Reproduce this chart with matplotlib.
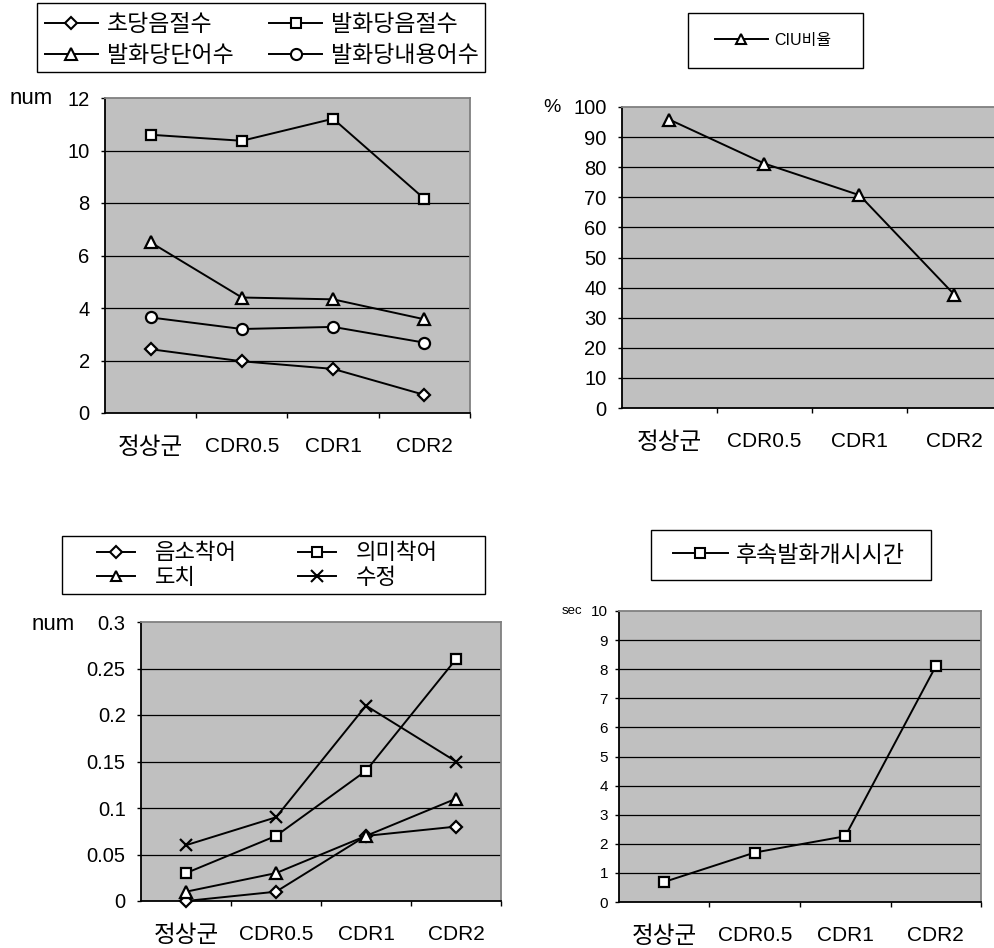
import matplotlib
matplotlib.use("Agg")
import matplotlib.pyplot as plt
from matplotlib.patches import Rectangle
from matplotlib.lines import Line2D

plt.rcParams['font.family'] = ['Liberation Sans', 'Noto Sans CJK KR', 'DejaVu Sans']

W, H = 995, 948

#------ data ------------------------------------------------------------------
categories = ['정상군', 'CDR0.5', 'CDR1', 'CDR2']

# top left (num)
syll_per_sec = [2.43, 1.97, 1.68, 0.69]       # 초당음절수
syll_per_utt = [10.6, 10.37, 11.21, 8.16]     # 발화당음절수
words_per_utt = [6.5, 4.4, 4.33, 3.57]        # 발화당단어수
content_per_utt = [3.64, 3.2, 3.28, 2.68]     # 발화당내용어수

# top right (%)
ciu_ratio = [95.8, 81.2, 70.7, 37.6]          # CIU비율

# bottom left (num)
phon_para = [0.0, 0.01, 0.07, 0.08]           # 음소착어
sem_para = [0.03, 0.07, 0.14, 0.26]           # 의미착어
inversion = [0.01, 0.03, 0.07, 0.11]          # 도치
revision = [0.06, 0.09, 0.21, 0.15]           # 수정

# bottom right (sec)
onset_time = [0.69, 1.70, 2.26, 8.1]          # 후속발화개시시간


def rect(l, t, r, b):
    # pixel box -> figure fraction
    return [l / W, 1 - b / H, (r - l) / W, (b - t) / H]


def style_axes(ax, yticks, ytick_size=14.5, ypad=8):
    ax.set_facecolor('#C0C0C0')
    ax.set_xlim(-0.5, 3.5)
    ax.set_ylim(yticks[0], yticks[-1])
    ax.set_yticks(yticks)
    ax.hlines(yticks[1:-1], -0.5, 3.5, color='black', lw=0.9, zorder=1)
    for s in ['left', 'bottom']:
        ax.spines[s].set_color('black')
        ax.spines[s].set_linewidth(1.3)
    for s in ['top', 'right']:
        ax.spines[s].set_color('#808080')
        ax.spines[s].set_linewidth(1.3)
    ax.set_xticks(range(len(categories)))
    ax.set_xticklabels(categories, fontsize=15)
    ax.get_xticklabels()[0].set_fontsize(17)
    ax.set_xticks([0.5, 1.5, 2.5, 3.5], minor=True)
    ax.tick_params(axis='x', which='major', length=0, pad=17)
    ax.tick_params(axis='x', which='minor', length=3.5, width=1, direction='out')
    ax.tick_params(axis='y', length=3, width=1, direction='out',
                   labelsize=ytick_size, pad=ypad)


def draw(ax, values, marker, ms):
    ax.plot(range(len(values)), values, color='black', lw=1.4, marker=marker,
            ms=ms, mfc='white', mec='black', mew=1.6, zorder=3, clip_on=False)


def box(l, t, r, b):
    fig.add_artist(Rectangle((l / W, 1 - b / H), (r - l) / W, (b - t) / H,
                             transform=fig.transFigure, fill=False,
                             edgecolor='black', lw=1))


def handle(marker, ms):
    return Line2D([], [], color='black', lw=1.4, marker=marker, ms=ms,
                  mfc='white', mec='black', mew=1.5)


fig = plt.figure(figsize=(W / 100, H / 100), dpi=100)

#------ top left --------------------------------------------------------------
ax1 = fig.add_axes(rect(105, 98, 470, 413))
style_axes(ax1, [0, 2, 4, 6, 8, 10, 12])
draw(ax1, syll_per_sec, 'D', 6.5)
draw(ax1, syll_per_utt, 's', 7.5)
draw(ax1, words_per_utt, '^', 8)
draw(ax1, content_per_utt, 'o', 8)
fig.text(10 / W, 1 - 98 / H, 'num', fontsize=16, va='center', ha='left')

box(37, 3, 485, 72)
fig.legend([handle('D', 6.5), handle('^', 8), handle('s', 7.5), handle('o', 8)],
           ['초당음절수', '발화당단어수', '발화당음절수', '발화당내용어수'],
           ncol=2, loc='center left', bbox_to_anchor=(45 / W, 1 - 40 / H),
           frameon=False, fontsize=16.5, borderpad=0, borderaxespad=0,
           handlelength=2.3, handletextpad=0.4, columnspacing=1.55,
           labelspacing=0.35)

#------ top right -------------------------------------------------------------
ax2 = fig.add_axes(rect(622, 107, 1002, 408))
style_axes(ax2, [0, 10, 20, 30, 40, 50, 60, 70, 80, 90, 100])
draw(ax2, ciu_ratio, '^', 8)
fig.text(543 / W, 1 - 107 / H, '%', fontsize=14, va='center', ha='left')

box(688, 13, 863, 68)
fig.legend([handle('^', 7)], ['CIU비율'], loc='center left',
           bbox_to_anchor=(715 / W, 1 - 40 / H), frameon=False, fontsize=11.5,
           borderpad=0, borderaxespad=0, handlelength=3.3, handletextpad=0.4)

#------ bottom left -----------------------------------------------------------
ax3 = fig.add_axes(rect(141, 622, 501, 901))
style_axes(ax3, [0, 0.05, 0.1, 0.15, 0.2, 0.25, 0.3])
ax3.set_yticklabels(['0', '0.05', '0.1', '0.15', '0.2', '0.25', '0.3'])
draw(ax3, phon_para, 'D', 6.5)
draw(ax3, sem_para, 's', 7.5)
draw(ax3, inversion, '^', 8)
draw(ax3, revision, 'x', 9)
fig.text(32 / W, 1 - 624 / H, 'num', fontsize=16, va='center', ha='left')

box(62, 536, 485, 594)
fig.legend([handle('D', 6), handle('^', 7), handle('s', 7), handle('x', 8)],
           ['음소착어', '도치', '의미착어', '수정'],
           ncol=2, loc='center left', bbox_to_anchor=(97 / W, 1 - 566 / H),
           frameon=False, fontsize=16, borderpad=0, borderaxespad=0,
           handlelength=1.7, handletextpad=0.9, columnspacing=2.75,
           labelspacing=0.15)

#------ bottom right ----------------------------------------------------------
ax4 = fig.add_axes(rect(619, 611, 981, 902))
style_axes(ax4, list(range(11)), ytick_size=11, ypad=5)
draw(ax4, onset_time, 's', 7.5)
fig.text(562 / W, 1 - 611 / H, 'sec', fontsize=9.5, va='center', ha='left')

box(651, 530, 931, 580)
fig.legend([handle('s', 7.5)], ['후속발화개시시간'], loc='center left',
           bbox_to_anchor=(673 / W, 1 - 555 / H), frameon=False, fontsize=16.5,
           borderpad=0, borderaxespad=0, handlelength=2.4, handletextpad=0.35)

fig.savefig('out.png', dpi=100)
